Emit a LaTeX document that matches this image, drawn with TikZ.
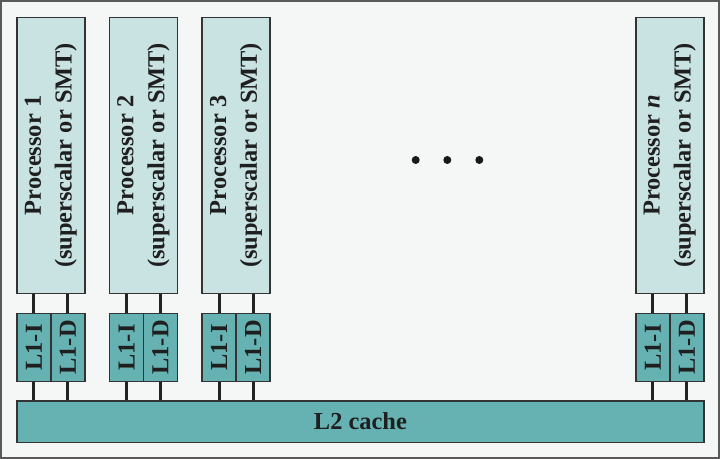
\documentclass[tikz,border=0pt]{standalone}
\usepackage{fontspec}
\setmainfont{Liberation Serif}
\definecolor{bgc}{HTML}{F4F7F6}
\definecolor{procc}{HTML}{C9E3E3}
\definecolor{tealc}{HTML}{66B2B2}
\definecolor{edgec}{HTML}{333333}
\definecolor{framec}{HTML}{5A5A5A}
\definecolor{linec}{HTML}{222222}
\begin{document}
\begin{tikzpicture}[x=1bp,y=-1bp,
  procbox/.style={draw=edgec,line width=1.5bp,fill=procc,minimum width=68bp,minimum height=276bp,inner sep=0pt,anchor=north west},
  cachebox/.style={draw=edgec,line width=1.5bp,fill=tealc,minimum width=34bp,minimum height=68bp,inner sep=0pt,anchor=north west},
  l2box/.style={draw=edgec,line width=1.5bp,fill=tealc,minimum width=687.3bp,minimum height=41.7bp,inner sep=0pt,anchor=north west},
  txt/.style={font=\fontsize{24.5}{31}\selectfont\bfseries,text=black!88,inner sep=0pt},
  conn/.style={draw=linec,line width=3bp},
  dotn/.style={circle,fill=black!90,minimum size=8bp,inner sep=0pt}
]
\useasboundingbox (0,0) rectangle (720,459);
\draw[framec,line width=2bp,fill=bgc] (1,1) rectangle (719,458);
\node[l2box] (l2) at (16,400) {};
\node[txt] (l2t) at (l2.center) {L2 cache};
\foreach \i/\x/\lab in {1/16/1, 2/108.7/2, 3/201.3/3, n/635/\textit{n}} {
  \node[procbox] (p\i) at (\x,16.7) {};
  \node[txt,rotate=90,align=center] (pt\i) at (p\i.center) {Processor \lab\\(superscalar or SMT)};
  \node[cachebox] (li\i) at (\x,312.7) {};
  \node[cachebox] (ld\i) at (\x+34,312.7) {};
  \node[txt,rotate=90] (lit\i) at (li\i.center) {L1-I};
  \node[txt,rotate=90] (ldt\i) at (ld\i.center) {L1-D};
  \draw[conn] (li\i.north) -- (li\i.north |- p\i.south);
  \draw[conn] (ld\i.north) -- (ld\i.north |- p\i.south);
  \draw[conn] (li\i.south) -- (li\i.south |- l2.north);
  \draw[conn] (ld\i.south) -- (ld\i.south |- l2.north);
}
\node[dotn] (d1) at (415.7,160) {};
\node[dotn] (d2) at (447.3,160) {};
\node[dotn] (d3) at (479.3,160) {};
\end{tikzpicture}
\end{document}
